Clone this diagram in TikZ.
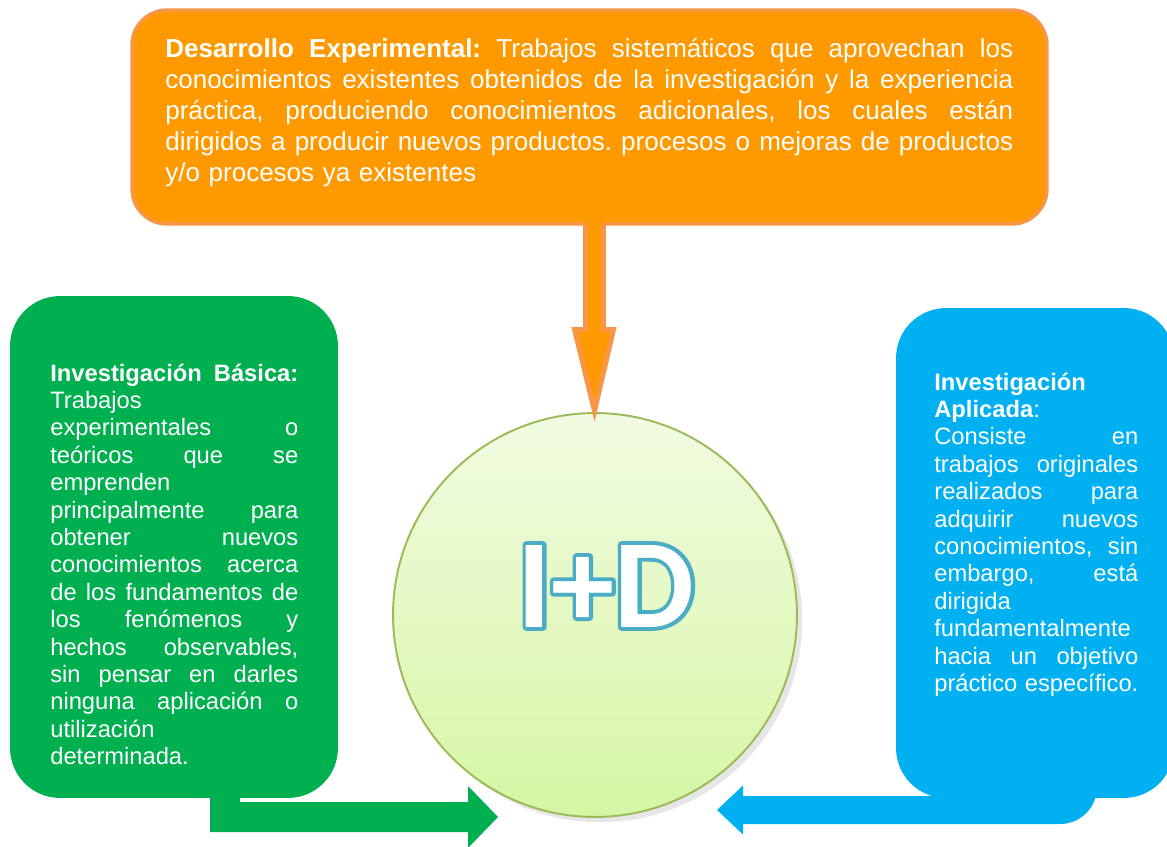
\documentclass[tikz,border=0pt]{standalone}
\usepackage{fontspec}
\setmainfont{Liberation Sans}
\newfontfamily\carlito{Carlito}
\usetikzlibrary{shadows,calc}
\definecolor{naranja}{HTML}{FF9900}
\definecolor{naranjaborde}{HTML}{F79646}
\definecolor{verde}{HTML}{00B050}
\definecolor{azul}{HTML}{00B0F0}
\definecolor{circfondo}{HTML}{F2FBE2}
\definecolor{circfondob}{HTML}{D6F6A4}
\definecolor{circborde}{HTML}{9BBB59}
\definecolor{letraborde}{HTML}{4BACC6}
% linea justificada de ancho \ancho
\newcommand{\lj}[1]{\leavevmode\hbox to \ancho{\spaceskip=0.278em plus 1fil minus 0.1em\relax #1}}
% texto con contorno (modo de trazo del pdf)
\newcommand{\contorno}[1]{\special{pdf:code 0.294 0.675 0.776 RG 4.4 w 1 j 2 Tr}#1\special{pdf:code 0 Tr}}
\setlength{\parindent}{0pt}
\frenchspacing

\begin{document}
\begin{tikzpicture}[x=.02cm, y=-.02cm,
  caja/.style={rectangle, rounded corners=1cm, inner sep=0pt},
  texto/.style={anchor=base west, inner sep=0pt, text=white, font=\fontsize{13.5}{15.6}\selectfont},
  letras/.style={anchor=base, inner sep=0pt, font=\carlito\bfseries\fontsize{72}{72}\selectfont}]
\clip (0,0) rectangle (1167,846);

% circulo central
\node[circle, minimum size=8.08cm, draw=circborde, line width=1.1pt,
  top color=circfondo, bottom color=circfondob,
  drop shadow={shadow xshift=3pt, shadow yshift=-3pt, opacity=.2}] (id) at (595,615) {};
\node[letras, text=letraborde] (idborde) at (606,627) {\contorno{I+D}};
\node[letras, text=white] (idtxt) at (606,627) {I+D};

% desarrollo experimental
\node[caja, rounded corners=.7cm, fill=naranja, draw=naranjaborde, line width=2pt,
  minimum width=18.3cm, minimum height=4.28cm] (desarrollo) at (589.5,117) {};
\fill[naranja] (585.5,221) -- (585.5,329.5) -- (574.5,329.5) -- (594.5,411)
  -- (613.5,329.5) -- (603.5,329.5) -- (603.5,221) -- cycle;
\draw[naranjaborde, line width=2.8pt] (585.5,225) -- (585.5,329.5) -- (574.5,329.5)
  -- (594.5,411) -- (613.5,329.5) -- (603.5,329.5) -- (603.5,225);
\node[texto, font=\fontsize{14.8}{17.7}\selectfont, text width=16.96cm] (textodes) at (165,57) {%
\def\ancho{16.96cm}%
\lj{\textbf{Desarrollo Experimental:} Trabajos sistemáticos que aprovechan los}\\
\lj{conocimientos existentes obtenidos de la investigación y la experiencia}\\
\lj{práctica, produciendo conocimientos adicionales, los cuales están}\\
\lj{dirigidos a producir nuevos productos. procesos o mejoras de productos}\\
y/o procesos ya existentes};

% investigacion basica
\node[caja, fill=verde, minimum width=6.56cm, minimum height=10.04cm] (basica) at (174,547) {};
\fill[verde] (210,796) -- (210,832) -- (468,832) -- (468,848) -- (498,817)
  -- (468,786) -- (468,802) -- (240,802) -- (240,796) -- cycle;
\node[texto, text width=4.96cm] (textobas) at (50,381) {%
\def\ancho{4.96cm}%
\lj{\textbf{Investigación Básica:}}\\
Trabajos\\
\lj{experimentales o}\\
\lj{teóricos que se}\\
emprenden\\
\lj{principalmente para}\\
\lj{obtener nuevos}\\
\lj{conocimientos acerca}\\
\lj{de los fundamentos de}\\
\lj{los fenómenos y}\\
\lj{hechos observables,}\\
\lj{sin pensar en darles}\\
\lj{ninguna aplicación o}\\
utilización\\
determinada.};

% investigacion aplicada
\node[caja, fill=azul, minimum width=5.56cm, minimum height=9.8cm] (aplicada) at (1035,553) {};
\fill[azul] (717,810) -- (743,785.5) -- (743,796) -- (1097,796) -- (1097,787)
  arc[start angle=0, end angle=90, radius=37] -- (743,824) -- (743,834.5) -- cycle;
\node[texto, text width=4.08cm] (textoapl) at (934,390) {%
\def\ancho{4.08cm}%
\textbf{Investigación}\\
\textbf{Aplicada}:\\
\lj{Consiste en}\\
\lj{trabajos originales}\\
\lj{realizados para}\\
\lj{adquirir nuevos}\\
\lj{conocimientos, sin}\\
\lj{embargo, está}\\
dirigida\\
fundamentalmente\\
\lj{hacia un objetivo}\\
\lj{práctico específico.}};
\end{tikzpicture}
\end{document}
